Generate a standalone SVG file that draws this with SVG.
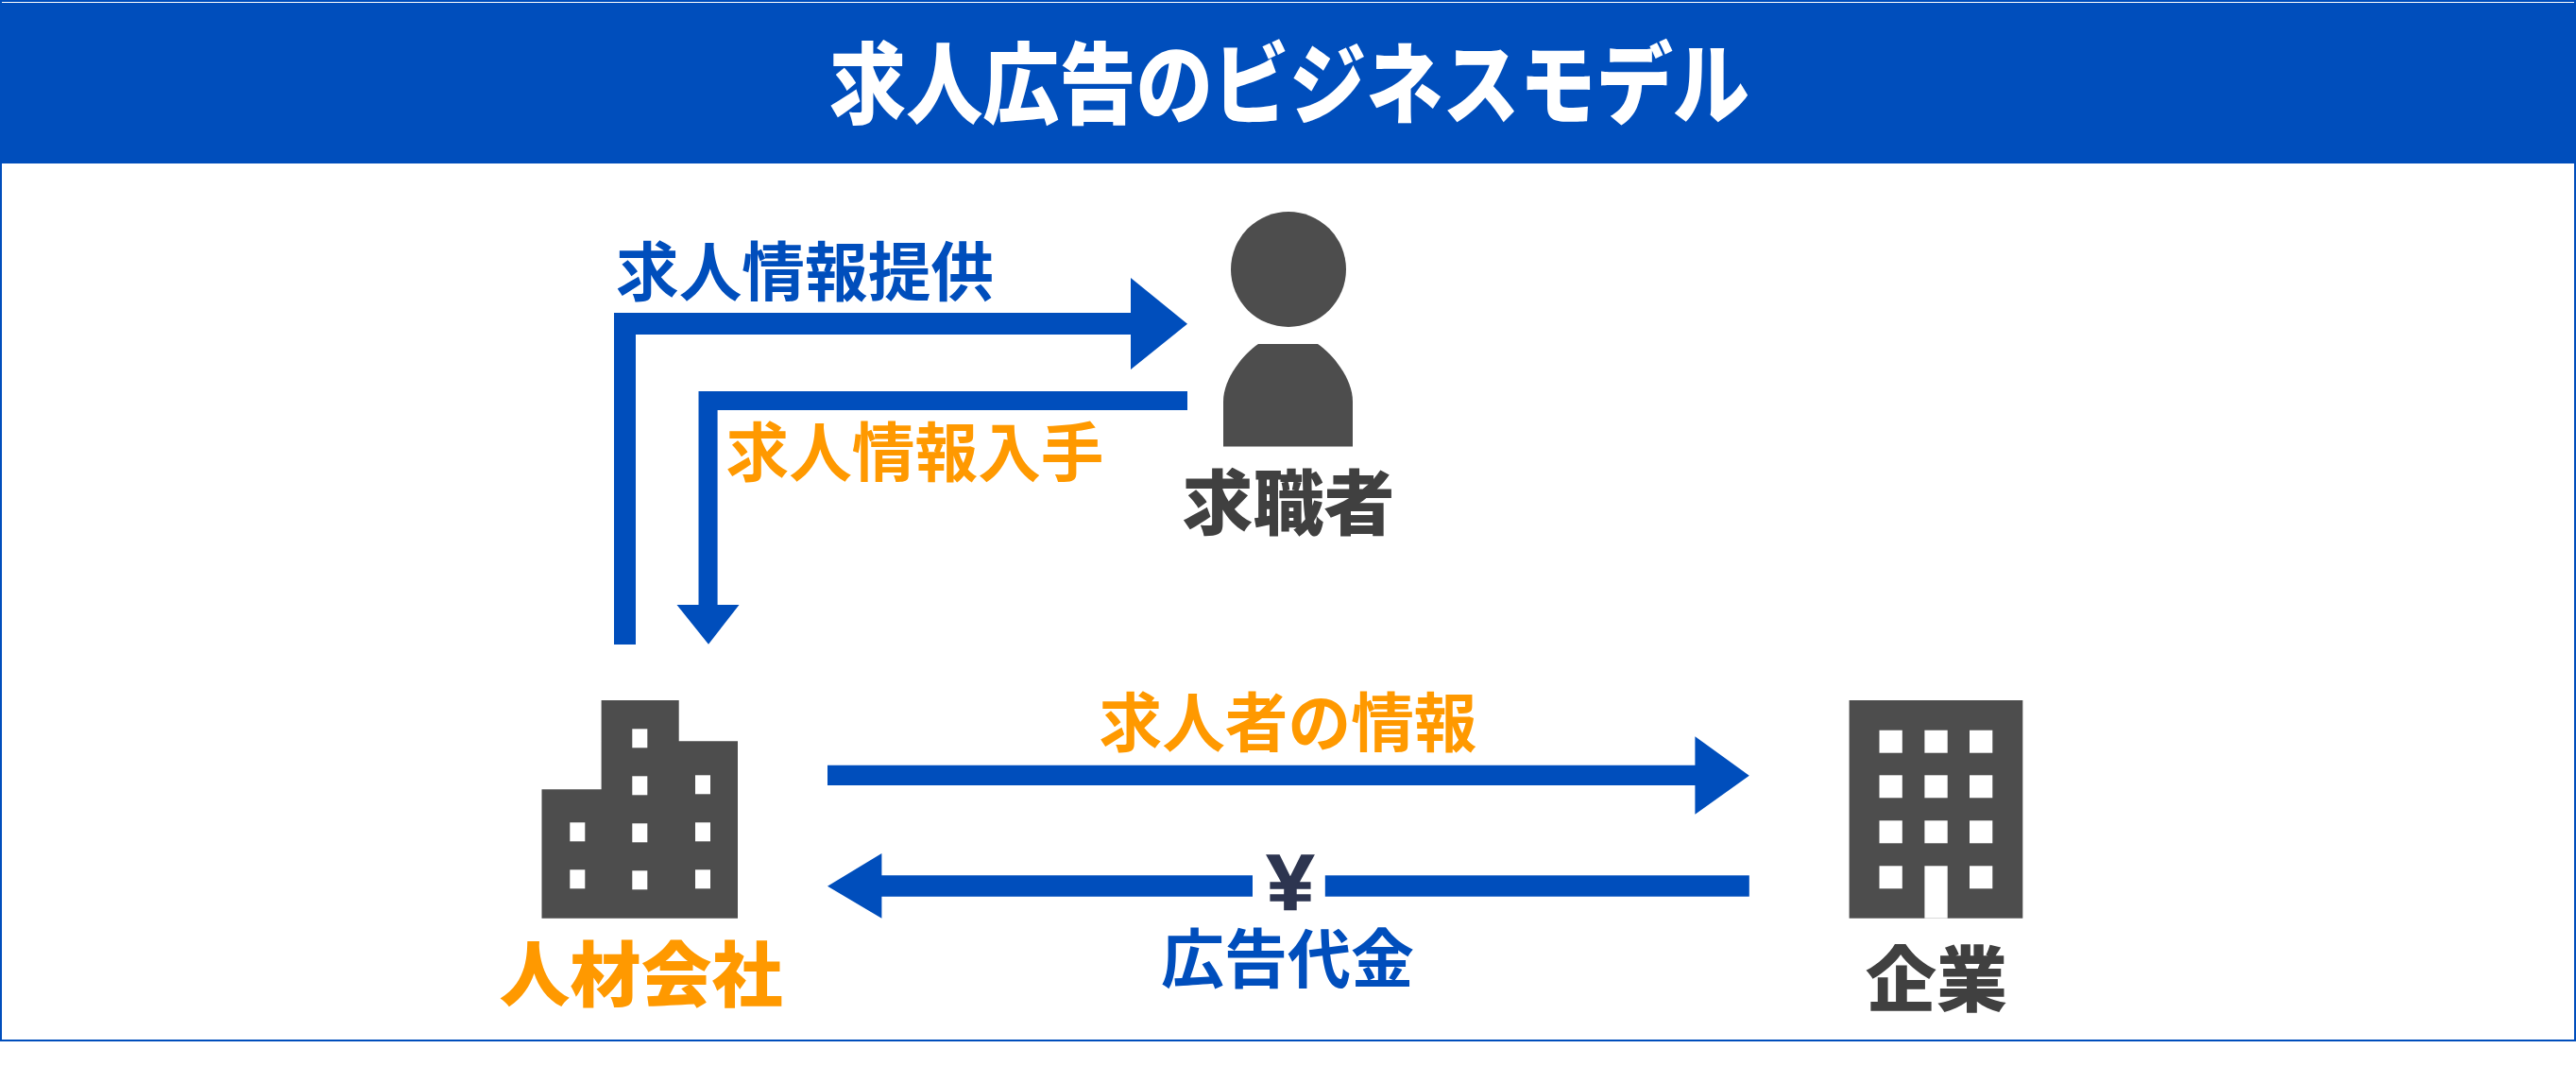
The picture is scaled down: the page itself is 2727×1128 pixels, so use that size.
<svg xmlns="http://www.w3.org/2000/svg" width="2727" height="1128" viewBox="0 0 2727 1128">
<style>
text{font-family:"Noto Sans CJK JP","Noto Sans",sans-serif;font-weight:700}
.b{fill:#004ebc}.o{fill:#ff9900}.d{fill:#404040}.i{fill:#4d4d4d}.w{fill:#fff}
.e{font-size:68px}.n{font-size:75px;font-weight:900}
</style>
<rect width="2727" height="1128" fill="#fff"/>
<g id="frame"><path d="M0 0H2727V1102H0Z M2 2V1100H2725V2Z" class="b" fill-rule="evenodd"/></g>
<g id="header"><rect y="3" width="2727" height="170" x="0" class="b"/>
<text x="878" y="124" font-size="94" style="font-weight:900" class="w" textLength="974" lengthAdjust="spacingAndGlyphs">求人広告のビジネスモデル</text></g>
<g id="connectors">
<path class="b" d="M650 682V331H1197V294L1257 342.700L1197 391V354H673V682Z"/>
<path class="b" d="M739.500 640V414H1257V434H759.600V640H782.500L750 681.700L716.500 640Z"/>
<path class="b" d="M876 809.700H1794.400V779.300L1851.800 820.700L1794.400 861.700V831H876Z"/>
<path class="b" d="M876 937.700L933.400 903V926.300H1326V948.700H933.400V971.700Z"/>
<rect class="b" x="1402.800" y="926.300" width="449" height="22.400"/>
</g>
<g id="seeker"><ellipse class="i" cx="1364" cy="285" rx="61" ry="61"/>
<path class="i" d="M1332 364H1395C1410 374 1432 400 1432 425V472.500H1295V425C1295 400 1317 374 1332 364Z"/>
<text x="1364" y="560" text-anchor="middle" class="d n">求職者</text></g>
<g id="agency"><path class="i" d="M573.500 971.700V835.300H636.600V741H718.700V784.300H781V971.700Z"/>
<g class="w"><rect x="669.300" y="771.300" width="16" height="20"/><rect x="669.300" y="821.300" width="16" height="20"/><rect x="669.300" y="871.300" width="16" height="20"/><rect x="669.300" y="921.300" width="16" height="20"/>
<rect x="603.300" y="870.300" width="16" height="20"/><rect x="603.300" y="920.300" width="16" height="20"/>
<rect x="736" y="820.300" width="16" height="20"/><rect x="736" y="870.300" width="16" height="20"/><rect x="736" y="920.300" width="16" height="20"/></g>
<text x="678.500" y="1059" text-anchor="middle" class="o n">人材会社</text></g>
<g id="company"><rect class="i" x="1957.600" y="741" width="183.700" height="230.700"/>
<g class="w"><rect x="1989.500" y="772.700" width="24.300" height="24"/><rect x="2037.400" y="772.700" width="24.300" height="24"/><rect x="2085" y="772.700" width="24.300" height="24"/>
<rect x="1989.500" y="820.300" width="24.300" height="24"/><rect x="2037.400" y="820.300" width="24.300" height="24"/><rect x="2085" y="820.300" width="24.300" height="24"/>
<rect x="1989.500" y="868.300" width="24.300" height="24"/><rect x="2037.400" y="868.300" width="24.300" height="24"/><rect x="2085" y="868.300" width="24.300" height="24"/>
<rect x="1989.500" y="916.300" width="24.300" height="24"/><rect x="2037.400" y="916.300" width="24.300" height="55.400"/><rect x="2085" y="916.300" width="24.300" height="24"/></g>
<text x="2050" y="1064" text-anchor="middle" class="d n">企業</text></g>
<g id="labels">
<text x="652" y="313" class="b e" textLength="400" lengthAdjust="spacingAndGlyphs">求人情報提供</text>
<text x="768.500" y="504" class="o e" textLength="400" lengthAdjust="spacingAndGlyphs">求人情報入手</text>
<text x="1163.500" y="790" class="o e" textLength="400" lengthAdjust="spacingAndGlyphs">求人者の情報</text>
<text x="1229" y="1040" class="b e" textLength="268" lengthAdjust="spacingAndGlyphs">広告代金</text>
<text x="1341" y="963" font-size="84" fill="#2d3550" stroke="#2d3550" stroke-width="1.500" style="font-family:'Liberation Sans',sans-serif" textLength="50" lengthAdjust="spacingAndGlyphs">¥</text>
</g>
</svg>
